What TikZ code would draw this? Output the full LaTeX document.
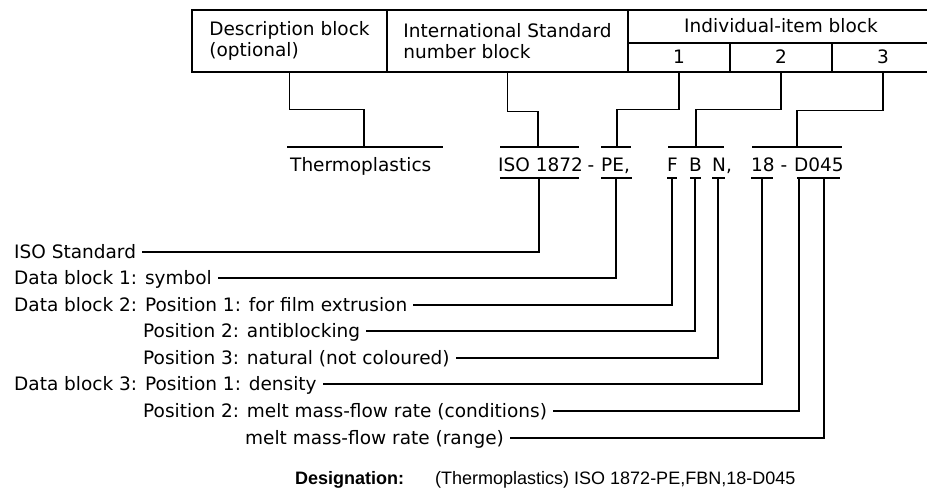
\documentclass[tikz,border=0pt]{standalone}
\usepackage{fontspec}
\newfontfamily\isofont{DejaVu Sans}
\newfontfamily\helvfont{Liberation Sans}
\usetikzlibrary{positioning}
\newcommand{\isotext}{\isofont\fontsize{18.5}{21}\selectfont}
\tikzset{
  fld/.style={draw,line width=1.5pt,inner sep=0pt,align=left,font=\isotext},
  txt/.style={font=\isotext,inner sep=0pt,text height=12pt,text depth=0pt,anchor=base west},
  lbl/.style={txt,inner xsep=6pt},
  lead/.style={line width=1.4pt},
  bar/.style={line width=1.4pt},
}
\begin{document}
\begin{tikzpicture}[x=1pt,y=-1pt]
  \clip (0,0) rectangle (927,498);
  % block header
  \node[fld,minimum width=195pt,minimum height=62pt] (desc) at (289.5,41) {Description block\\(optional)};
  \node[fld,minimum width=241pt,minimum height=62pt] (isn) at (507.5,41) {International Standard\\number block};
  \node[fld,minimum width=306pt,minimum height=33pt,text height=12pt,text depth=0pt] (hdr) at (781,26.5) {Individual-item block};
  \node[fld,minimum width=102pt,minimum height=29pt,text height=12pt,text depth=0pt] (c1) at (679,57.5) {1};
  \node[fld,minimum width=102pt,minimum height=29pt,text height=12pt,text depth=0pt] (c2) at (781,57.5) {2};
  \node[fld,minimum width=102pt,minimum height=29pt,text height=12pt,text depth=0pt] (c3) at (883,57.5) {3};
  % designation parts
  \node[txt] (tThermo) at (290,171) {Thermoplastics};
  \node[txt] (tISO) at (498,171) {ISO 1872};
  \node[txt,anchor=base] (tDash1) at (591,171) {-};
  \node[txt] (tPE) at (601,171) {PE,};
  \node[txt] (tF) at (667,171) {F};
  \node[txt] (tB) at (689,171) {B};
  \node[txt] (tN) at (712,171) {N,};
  \node[txt] (t18) at (751,171) {18};
  \node[txt,anchor=base] (tDash2) at (784,171) {-};
  \node[txt] (tD) at (794,171) {D045};
  % over- and underlines
  \draw[bar] (287,147) -- (443,147);
  \draw[bar] (500,147) -- (579,147);
  \draw[bar] (601,147) -- (631,147);
  \draw[bar] (668,147) -- (724,147);
  \draw[bar] (752,147) -- (842,147);
  \draw[bar] (500,178) -- (579,178);
  \draw[bar] (601,178) -- (632,178);
  \draw[bar] (667,178) -- (677,178);
  \draw[bar] (690,178) -- (701,178);
  \draw[bar] (712,178) -- (725,178);
  \draw[bar] (751,178) -- (773,178);
  \draw[bar] (797,178) -- (840,178);
  \coordinate (oThermo) at (364,147);
  \coordinate (oISO) at (538,147);
  \coordinate (oPE) at (617,147);
  \coordinate (oFBN) at (696,147);
  \coordinate (oD) at (797,147);
  \coordinate (uISO) at (539,178);
  \coordinate (uPE) at (616,178);
  \coordinate (uF) at (672,178);
  \coordinate (uB) at (695,178);
  \coordinate (uN) at (718,178);
  \coordinate (u18) at (762,178);
  \coordinate (uDa) at (799,178);
  \coordinate (uDb) at (824,178);
  % explanations
  \node[lbl] (lISO) at (8,258) {ISO Standard};
  \node[lbl] (lSym) at (8,284) {Data block 1: symbol};
  \node[lbl] (lFilm) at (8,311) {Data block 2: Position 1: for film extrusion};
  \node[lbl] (lAnti) at (137,337) {Position 2: antiblocking};
  \node[lbl] (lNat) at (137,364) {Position 3: natural (not coloured)};
  \node[lbl] (lDens) at (8,390) {Data block 3: Position 1: density};
  \node[lbl] (lCond) at (137,417) {Position 2: melt mass-flow rate (conditions)};
  \node[lbl] (lRange) at (239,444) {melt mass-flow rate (range)};
  % leads
  \draw[lead] (desc.south) -- ++(0,37) -| (oThermo);
  \draw[lead] (isn.south) -- ++(0,39) -| (oISO);
  \draw[lead] (c1.south) -- ++(0,37) -| (oPE);
  \draw[lead] (c2.south) -- ++(0,37) -| (oFBN);
  \draw[lead] (c3.south) -- ++(0,38) -| (oD);
  \draw[lead] (uISO) |- (lISO);
  \draw[lead] (uPE) |- (lSym);
  \draw[lead] (uF) |- (lFilm);
  \draw[lead] (uB) |- (lAnti);
  \draw[lead] (uN) |- (lNat);
  \draw[lead] (u18) |- (lDens);
  \draw[lead] (uDa) |- (lCond);
  \draw[lead] (uDb) |- (lRange);
  % designation
  \node[anchor=base west,inner sep=0pt,font=\helvfont\bfseries\fontsize{18}{21}\selectfont] (dLbl) at (295,484) {Designation:};
  \node[anchor=base west,inner sep=0pt,font=\helvfont\fontsize{18}{21}\selectfont] (dTxt) at (435,484) {(Thermoplastics) ISO 1872-PE,FBN,18-D045};
\end{tikzpicture}
\end{document}
